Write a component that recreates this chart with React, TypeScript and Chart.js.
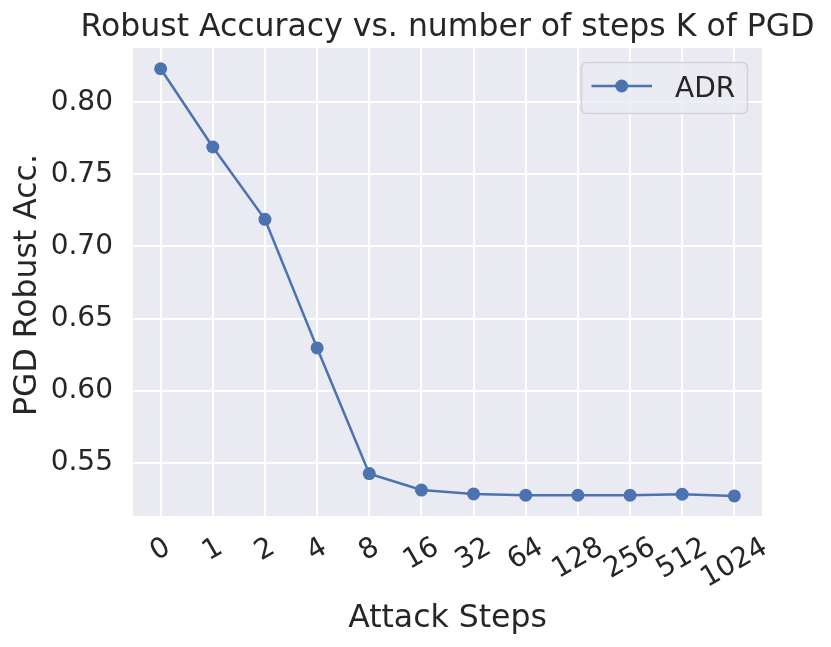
import React, { useEffect, useRef } from "react";
import { Chart, registerables } from "chart.js";

Chart.register(...registerables);

const stepLabels = ["0", "1", "2", "4", "8", "16", "32", "64", "128", "256", "512", "1024"];
const adrValues = [0.8233, 0.769, 0.7188, 0.6296, 0.5424, 0.531, 0.5283, 0.5274, 0.5274, 0.5274, 0.5281, 0.5269];
const yTickValues = [0.55, 0.6, 0.65, 0.7, 0.75, 0.8];
const seriesLabel = "ADR";
const titleText = "Robust Accuracy vs. number of steps K of PGD";
const xTitle = "Attack Steps";
const yTitle = "PGD Robust Acc.";

const FONT = "'DejaVu Sans', sans-serif";
const TEXT = "#262626";
const BLUE = "#4C72B0";

export default function App() {
  const ref = useRef<HTMLCanvasElement | null>(null);

  useEffect(() => {
    document.body.style.margin = "0";
    const canvas = ref.current;
    if (!canvas) return;

    const bgPlugin = {
      id: "bg",
      beforeDraw(chart: any) {
        const { ctx, chartArea } = chart;
        ctx.save();
        ctx.fillStyle = "#ffffff";
        ctx.fillRect(0, 0, chart.width, chart.height);
        ctx.fillStyle = "#EAEAF2";
        ctx.fillRect(chartArea.left, chartArea.top, chartArea.right - chartArea.left, chartArea.bottom - chartArea.top);
        ctx.restore();
      },
    };

    const textPlugin = {
      id: "texts",
      afterDraw(chart: any) {
        const { ctx, chartArea } = chart;
        const xs = chart.scales.x;
        const cx = (chartArea.left + chartArea.right) / 2;
        const cy = (chartArea.top + chartArea.bottom) / 2;
        ctx.save();
        ctx.fillStyle = TEXT;
        // title
        ctx.font = `31.5px ${FONT}`;
        ctx.textAlign = "center";
        ctx.textBaseline = "alphabetic";
        ctx.fillText(titleText, cx, 36);
        // x title
        ctx.fillText(xTitle, cx, 626.5);
        // y title
        ctx.save();
        ctx.translate(36, cy + 3);
        ctx.rotate(-Math.PI / 2);
        ctx.fillText(yTitle, 0, 0);
        ctx.restore();
        // x tick labels rotated 30deg, centered
        ctx.font = `28px ${FONT}`;
        ctx.textBaseline = "middle";
        stepLabels.forEach((lab, i) => {
          const x = xs.getPixelForValue(i);
          const w = ctx.measureText(lab).width;
          ctx.save();
          ctx.translate(x, 545.5 + w * 0.25);
          ctx.rotate(-Math.PI / 6);
          ctx.fillText(lab, 0, 0);
          ctx.restore();
        });
        // legend
        const ds = chart.data.datasets[0];
        ctx.beginPath();
        ctx.roundRect(581.5, 62.5, 166, 51, 5);
        ctx.fillStyle = "rgba(234,234,242,0.8)";
        ctx.fill();
        ctx.strokeStyle = "rgba(204,204,204,0.8)";
        ctx.lineWidth = 1.5;
        ctx.stroke();
        ctx.beginPath();
        ctx.moveTo(591.5, 86);
        ctx.lineTo(652, 86);
        ctx.strokeStyle = ds.borderColor;
        ctx.lineWidth = 2.5;
        ctx.stroke();
        ctx.beginPath();
        ctx.arc(621.7, 86, 6.5, 0, Math.PI * 2);
        ctx.fillStyle = ds.borderColor;
        ctx.fill();
        ctx.fillStyle = TEXT;
        ctx.textAlign = "left";
        ctx.textBaseline = "alphabetic";
        ctx.fillText(ds.label, 675, 96.7);
        ctx.restore();
      },
    };

    const chart = new Chart(canvas, {
      type: "line",
      data: {
        datasets: [
          {
            label: seriesLabel,
            data: adrValues.map((v, i) => ({ x: i, y: v })),
            borderColor: BLUE,
            backgroundColor: BLUE,
            borderWidth: 2.5,
            pointRadius: 6.5,
            pointBorderWidth: 0,
            pointBackgroundColor: BLUE,
            tension: 0,
          },
        ],
      },
      options: {
        responsive: false,
        animation: false,
        layout: { padding: { top: 48, right: 69, left: 0, bottom: 0 } },
        plugins: {
          legend: { display: false },
          title: { display: false },
          tooltip: { enabled: false },
        },
        scales: {
          x: {
            type: "linear",
            min: -0.53,
            max: 11.53,
            afterBuildTicks: (s: any) => {
              s.ticks = stepLabels.map((_, i) => ({ value: i }));
            },
            afterFit: (s: any) => {
              s.height = 131;
            },
            ticks: { display: false },
            grid: { color: "#ffffff", lineWidth: 2, drawTicks: false },
            border: { display: false },
          },
          y: {
            type: "linear",
            min: 0.513,
            max: 0.8377,
            afterBuildTicks: (s: any) => {
              s.ticks = yTickValues.map((v) => ({ value: v }));
            },
            afterFit: (s: any) => {
              s.width = 133;
            },
            ticks: {
              color: TEXT,
              font: { family: "DejaVu Sans", size: 28 },
              padding: 20,
              callback: (v: any) => Number(v).toFixed(2),
            },
            grid: { color: "#ffffff", lineWidth: 2, drawTicks: false },
            border: { display: false },
          },
        },
      },
      plugins: [bgPlugin, textPlugin],
    });

    return () => chart.destroy();
  }, []);

  return (
    <div style={{ width: 831, height: 647 }}>
      <canvas ref={ref} width={831} height={647} style={{ display: "block" }} />
    </div>
  );
}
